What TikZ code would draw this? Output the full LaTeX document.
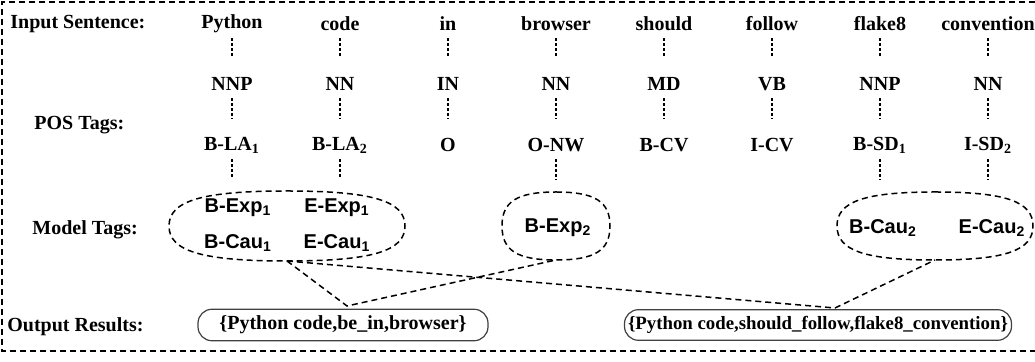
\documentclass[tikz,border=0pt]{standalone}
\usepackage{fontspec}
\setmainfont{Liberation Serif}
\newfontfamily\tagfont{Liberation Sans}
\usetikzlibrary{positioning}

% rounded outline round a group node: name, half width, half height
\newcommand\groupoutline[3]{%
  \draw [grpline] (#1.north)
     .. controls +(0.72*#2, 0) and +(0, -0.72*#3) .. (#1.east)
     .. controls +(0, 0.72*#3) and +(0.72*#2, 0) .. (#1.south)
     .. controls +(-0.72*#2, 0) and +(0, 0.72*#3) .. (#1.west)
     .. controls +(0, -0.72*#3) and +(-0.72*#2, 0) .. (#1.north) -- cycle;}

\begin{document}
\begin{tikzpicture}
  [x=0.5pt, y=-0.5pt,
   word/.style={font=\bfseries, inner sep=1pt, minimum height=14pt},
   rowname/.style={font=\bfseries, anchor=west, inner sep=0pt},
   mtag/.style={font=\tagfont\bfseries, inner sep=1pt},
   group/.style={shape=rectangle, inner sep=0pt, outer sep=0pt},
   grpline/.style={dash pattern=on 3pt off 2pt, line width=0.75pt},
   result/.style={draw=black!75, line width=0.6pt, rounded corners=7pt, font=\bfseries,
         minimum height=15pt, inner xsep=0.5pt},
   link/.style={dash pattern=on 1.5pt off 1pt, line width=0.6pt, shorten >=6pt},
   dashline/.style={dash pattern=on 3pt off 2pt, line width=0.75pt}
  ]
  \useasboundingbox (0,0) rectangle (1035,362);
  \draw [dashline] (1035,2) -- (2,2) -- (2,351) -- (1035,351);

  % row names
  \node (inrow)  [rowname] at (10, 24)  {Input Sentence:};
  \node (posrow) [rowname] at (34, 125) {POS Tags:};
  \node (modrow) [rowname] at (32, 230) {Model Tags:};
  \node (outrow) [rowname] at (7, 327)  {Output Results:};

 \path
   (232, 24) node (w1) [word] {Python}
  ++(108, 0) node (w2) [word] {code}
  ++(108, 0) node (w3) [word] {in}
  ++(108, 0) node (w4) [word] {browser}
  ++(108, 0) node (w5) [word] {should}
  ++(108, 0) node (w6) [word] {follow}
  ++(108, 0) node (w7) [word] {flake8}
  ++(108, 0) node (w8) [word] {convention};
 \path
   (232, 84) node (p1) [word] {NNP}
  ++(108, 0) node (p2) [word] {NN}
  ++(108, 0) node (p3) [word] {IN}
  ++(108, 0) node (p4) [word] {NN}
  ++(108, 0) node (p5) [word] {MD}
  ++(108, 0) node (p6) [word] {VB}
  ++(108, 0) node (p7) [word] {NNP}
  ++(108, 0) node (p8) [word] {NN};
 \path
   (232, 145) node (t1) [word] {B-LA\textsubscript{1}}
  ++(108, 0)  node (t2) [word] {B-LA\textsubscript{2}}
  ++(108, 0)  node (t3) [word] {O}
  ++(108, 0)  node (t4) [word] {O-NW}
  ++(108, 0)  node (t5) [word] {B-CV}
  ++(108, 0)  node (t6) [word] {I-CV}
  ++(108, 0)  node (t7) [word] {B-SD\textsubscript{1}}
  ++(108, 0)  node (t8) [word] {I-SD\textsubscript{2}};

  % model tags and their groups
  \node (g1) [group, minimum width=118pt, minimum height=35pt] at (287, 226) {};
  \node (g2) [group, minimum width=54pt, minimum height=34pt] at (556, 226) {};
  \node (g3) [group, minimum width=98pt, minimum height=34pt] at (935, 226) {};
  \groupoutline{g1}{118}{35}
  \groupoutline{g2}{54}{34}
  \groupoutline{g3}{98}{34}
  \node (m1) [mtag] at (238, 208) {B-Exp\textsubscript{1}};
  \node (m2) [mtag] at (337, 208) {E-Exp\textsubscript{1}};
  \node (m3) [mtag] at (238, 243) {B-Cau\textsubscript{1}};
  \node (m4) [mtag] at (337, 243) {E-Cau\textsubscript{1}};
  \node (m5) [mtag] at (558, 228) {B-Exp\textsubscript{2}};
  \node (m6) [mtag] at (883, 228) {B-Cau\textsubscript{2}};
  \node (m7) [mtag] at (992, 228) {E-Cau\textsubscript{2}};

  % results
  \node (r1) [result, minimum width=145pt] at (343, 325) {\{Python code,be\_in,browser\}};
  \node (r2) [result, minimum width=193.5pt, font=\bfseries\fontsize{9.4}{11}\selectfont]
      at (818, 325) {\{Python code,should\_follow,flake8\_convention\}};
  \coordinate (v1) at (347, 306);
  \coordinate (v2) at (835, 308);

   \begin{scope}[link]
   \draw (w1) -- (p1);
   \draw (w2) -- (p2);
   \draw (w3) -- (p3);
   \draw (w4) -- (p4);
   \draw (w5) -- (p5);
   \draw (w6) -- (p6);
   \draw (w7) -- (p7);
   \draw (w8) -- (p8);
   \draw (p1) -- (t1);
   \draw (p2) -- (t2);
   \draw (p3) -- (t3);
   \draw (p4) -- (t4);
   \draw (p5) -- (t5);
   \draw (p6) -- (t6);
   \draw (p7) -- (t7);
   \draw (p8) -- (t8);
   \draw (t1) -- (t1 |- g1.north);
   \draw (t2) -- (t2 |- g1.north);
   \draw (t4) -- (t4 |- g2.north);
   \draw (t7) -- (t7 |- g3.north);
   \draw (t8) -- (t8 |- g3.north);
   \end{scope}

   \begin{scope}[dashline]
   \draw (g1.south) -- (v1) -- (g2.south);
   \draw (g1.south) -- (v2) -- (g3.south);
   \end{scope}
\end{tikzpicture}
\end{document}
